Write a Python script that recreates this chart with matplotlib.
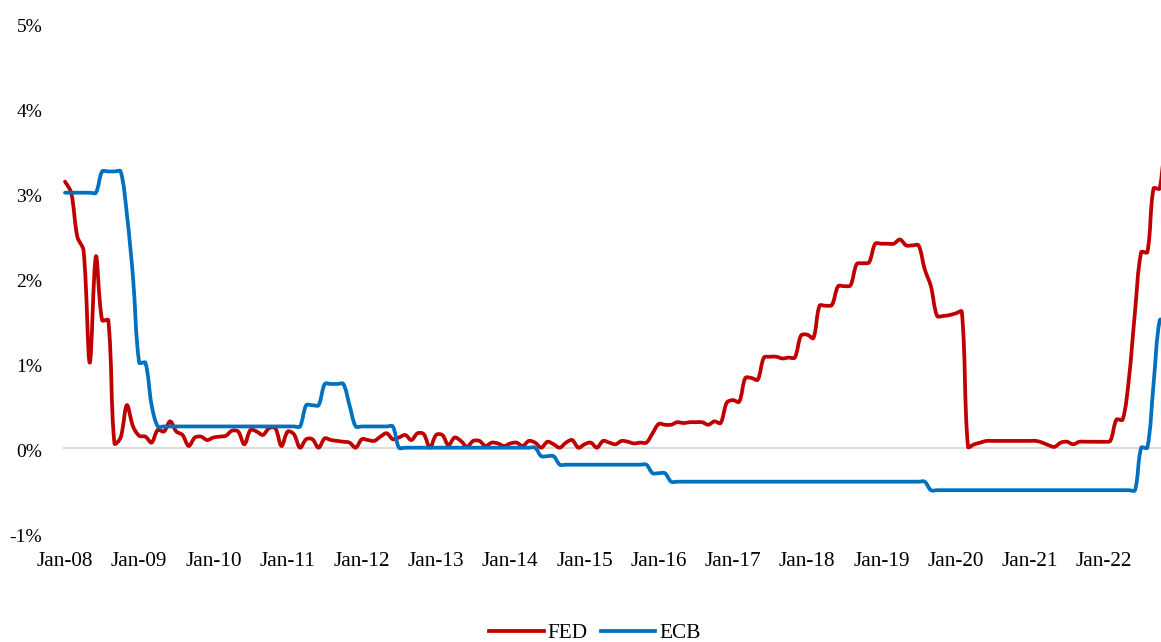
import matplotlib
matplotlib.use("Agg")
import matplotlib.pyplot as plt
import matplotlib.transforms as mtransforms
from matplotlib.path import Path
from matplotlib.patches import PathPatch
from matplotlib.lines import Line2D
import numpy as np

# Monthly data, Jan-2008 ... Nov-2022 (%)
fed = [
    # 2008
    3.13, 3.00, 2.48, 2.32, 1.00, 2.25, 1.50, 1.50, 0.05, 0.12, 0.50, 0.25,
    # 2009
    0.14, 0.13, 0.06, 0.21, 0.19, 0.31, 0.19, 0.15, 0.02, 0.12, 0.13, 0.09,
    # 2010
    0.12, 0.13, 0.14, 0.20, 0.19, 0.04, 0.21, 0.19, 0.15, 0.23, 0.23, 0.02,
    # 2011
    0.19, 0.16, 0.00, 0.10, 0.10, 0.00, 0.11, 0.09, 0.08, 0.07, 0.06, 0.00,
    # 2012
    0.10, 0.09, 0.08, 0.13, 0.17, 0.10, 0.12, 0.15, 0.09, 0.17, 0.16, 0.00,
    # 2013
    0.15, 0.15, 0.03, 0.12, 0.08, 0.01, 0.08, 0.08, 0.02, 0.06, 0.05, 0.02,
    # 2014
    0.05, 0.06, 0.02, 0.08, 0.06, 0.00, 0.07, 0.04, 0.00, 0.06, 0.09, 0.00,
    # 2015
    0.04, 0.06, 0.00, 0.08, 0.06, 0.04, 0.08, 0.07, 0.05, 0.06, 0.06, 0.17,
    # 2016
    0.28, 0.27, 0.27, 0.30, 0.29, 0.30, 0.30, 0.30, 0.27, 0.31, 0.29, 0.53,
    # 2017
    0.56, 0.54, 0.82, 0.82, 0.80, 1.06, 1.07, 1.07, 1.05, 1.06, 1.06, 1.32,
    # 2018
    1.33, 1.29, 1.67, 1.67, 1.68, 1.90, 1.90, 1.91, 2.16, 2.17, 2.18, 2.40,
    # 2019
    2.40, 2.40, 2.40, 2.45, 2.38, 2.38, 2.38, 2.10, 1.90, 1.55, 1.55, 1.56,
    # 2020
    1.58, 1.60, 0.01, 0.04, 0.06, 0.08, 0.08, 0.08, 0.08, 0.08, 0.08, 0.08,
    # 2021
    0.08, 0.08, 0.06, 0.03, 0.01, 0.06, 0.07, 0.04, 0.07, 0.07, 0.07, 0.07,
    # 2022
    0.07, 0.08, 0.33, 0.33, 0.80, 1.60, 2.30, 2.30, 3.05, 3.05, 3.80,
]

ecb = [
    # 2008
    3.00, 3.00, 3.00, 3.00, 3.00, 3.00, 3.25, 3.25, 3.25, 3.25, 2.75, 2.00,
    # 2009
    1.00, 1.00, 0.50, 0.25, 0.25, 0.25, 0.25, 0.25, 0.25, 0.25, 0.25, 0.25,
    # 2010
    0.25, 0.25, 0.25, 0.25, 0.25, 0.25, 0.25, 0.25, 0.25, 0.25, 0.25, 0.25,
    # 2011
    0.25, 0.25, 0.25, 0.50, 0.50, 0.50, 0.75, 0.75, 0.75, 0.75, 0.50, 0.25,
    # 2012
    0.25, 0.25, 0.25, 0.25, 0.25, 0.25, 0.00, 0.00, 0.00, 0.00, 0.00, 0.00,
    # 2013
    0.00, 0.00, 0.00, 0.00, 0.00, 0.00, 0.00, 0.00, 0.00, 0.00, 0.00, 0.00,
    # 2014
    0.00, 0.00, 0.00, 0.00, 0.00, -0.10, -0.10, -0.10, -0.20, -0.20, -0.20, -0.20,
    # 2015
    -0.20, -0.20, -0.20, -0.20, -0.20, -0.20, -0.20, -0.20, -0.20, -0.20, -0.20, -0.30,
    # 2016
    -0.30, -0.30, -0.40, -0.40, -0.40, -0.40, -0.40, -0.40, -0.40, -0.40, -0.40, -0.40,
    # 2017
    -0.40, -0.40, -0.40, -0.40, -0.40, -0.40, -0.40, -0.40, -0.40, -0.40, -0.40, -0.40,
    # 2018
    -0.40, -0.40, -0.40, -0.40, -0.40, -0.40, -0.40, -0.40, -0.40, -0.40, -0.40, -0.40,
    # 2019
    -0.40, -0.40, -0.40, -0.40, -0.40, -0.40, -0.40, -0.40, -0.50, -0.50, -0.50, -0.50,
    # 2020
    -0.50, -0.50, -0.50, -0.50, -0.50, -0.50, -0.50, -0.50, -0.50, -0.50, -0.50, -0.50,
    # 2021
    -0.50, -0.50, -0.50, -0.50, -0.50, -0.50, -0.50, -0.50, -0.50, -0.50, -0.50, -0.50,
    # 2022
    -0.50, -0.50, -0.50, -0.50, -0.50, -0.50, 0.00, 0.00, 0.75, 1.50, 1.50,
]

series_names = ["FED", "ECB"]
series_colors = ["#C00000", "#0070C0"]
tick_labels = ["Jan-%02d" % y for y in range(8, 23)]
y_ticks = [-1, 0, 1, 2, 3, 4, 5]

plt.rcParams["font.family"] = ["Liberation Serif", "DejaVu Serif"]


def smooth_path(ax, xs, ys):
    """Excel-like smoothed line: cubic Bezier segments through the data points,
    control-point lengths weighted by the on-screen segment lengths."""
    pts = np.column_stack([xs, ys]).astype(float)
    disp = ax.transData.transform(pts)
    n = len(pts)
    seg = np.hypot(*np.diff(disp, axis=0).T)  # seg[i] = |P_i P_{i+1}|
    f = 1.0 / 6.0
    verts = [pts[0]]
    codes = [Path.MOVETO]
    for i in range(n - 1):
        p0 = pts[max(i - 1, 0)]
        p1 = pts[i]
        p2 = pts[i + 1]
        p3 = pts[min(i + 2, n - 1)]
        d01 = seg[i - 1] if i > 0 else seg[i]
        d12 = seg[i]
        d23 = seg[i + 1] if i + 1 < n - 1 else seg[i]
        w1 = 2 * d12 / (d01 + d12) if (d01 + d12) > 0 else 1.0
        w2 = 2 * d12 / (d12 + d23) if (d12 + d23) > 0 else 1.0
        c1 = p1 + (p2 - p0) * f * w1
        c2 = p2 - (p3 - p1) * f * w2
        verts += [c1, c2, p2]
        codes += [Path.CURVE4] * 3
    return Path(np.array(verts), codes)


W, H = 1161, 642
fig = plt.figure(figsize=(W / 100, H / 100), dpi=100)
left_px, right_px, top_px, bot_px = 63, 1161, 22.7, 532.7
ax = fig.add_axes([left_px / W, 1 - bot_px / H,
                   (right_px - left_px) / W, (bot_px - top_px) / H])

px_per_month = 6.185
x_start_px = 65
ax.set_xlim((left_px - x_start_px) / px_per_month,
            (right_px - x_start_px) / px_per_month)
ax.set_ylim(-1, 5)

ax.axhline(0, color="#D9D9D9", lw=1.3, zorder=1)

lw = 2.7
for vals, col in zip([fed, ecb], series_colors):
    xs = np.arange(len(vals))
    patch = PathPatch(smooth_path(ax, xs, vals), facecolor="none", edgecolor=col,
                      lw=lw, capstyle="round", joinstyle="round", zorder=3)
    ax.add_patch(patch)

ax.set_xticks(np.arange(0, 12 * len(tick_labels), 12))
ax.set_xticklabels(tick_labels)
ax.set_yticks(y_ticks)
ax.set_yticklabels(["%d%%" % v for v in y_ticks])
ax.tick_params(axis="both", length=0, colors="black")
ax.tick_params(axis="x", pad=14, labelsize=15.3)
ax.tick_params(axis="y", pad=15, labelsize=14)
shift = mtransforms.ScaledTranslation(0, -2.5 / 100, fig.dpi_scale_trans)
for lab in ax.get_yticklabels():
    lab.set_transform(lab.get_transform() + shift)
for s in ax.spines.values():
    s.set_visible(False)

handles = [Line2D([0], [0], color=c, lw=lw) for c in series_colors]
fig.legend(handles, series_names, loc="center", bbox_to_anchor=(595 / W, 1 - 633 / H),
           ncol=2, frameon=False, fontsize=15.3, handlelength=2.55,
           handletextpad=0.2, columnspacing=0.6)

fig.savefig("out.png", dpi=100)
